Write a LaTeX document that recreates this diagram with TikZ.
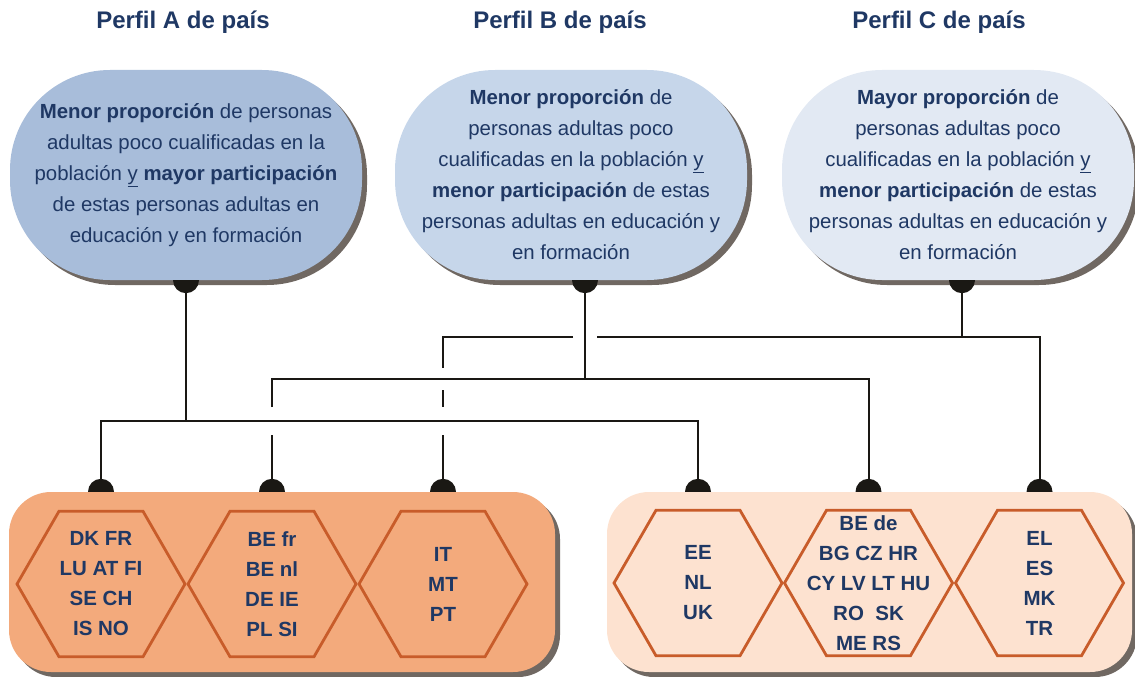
\documentclass[tikz,border=0pt]{standalone}
\usepackage{fontspec}
\setmainfont{Liberation Sans}
\usetikzlibrary{shapes.geometric,shadows,calc}
\definecolor{ink}{RGB}{31,56,100}
\definecolor{wirecol}{RGB}{26,24,20}
\definecolor{blueA}{RGB}{168,189,218}
\definecolor{blueB}{RGB}{198,214,234}
\definecolor{blueC}{RGB}{226,233,243}
\definecolor{peachdark}{RGB}{243,170,124}
\definecolor{peachlight}{RGB}{253,226,208}
\definecolor{rust}{RGB}{200,92,42}
\definecolor{shade}{RGB}{112,104,98}
\tikzset{
  title/.style={font=\fontsize{24}{28}\selectfont\bfseries,text=ink},
  bubble/.style={rounded corners=100pt,minimum width=352pt,minimum height=210pt,inner sep=0pt,
    drop shadow={shadow xshift=5pt,shadow yshift=-5pt,fill=shade,opacity=1},
    font=\fontsize{20.4}{31}\selectfont,text=ink,align=center},
  group/.style={rounded corners=42pt,minimum height=180pt,inner sep=0pt,
    drop shadow={shadow xshift=5pt,shadow yshift=-5pt,fill=shade,opacity=1}},
  hexa/.style={regular polygon,regular polygon sides=6,minimum size=168pt,
    draw=rust,line width=2.8pt,inner sep=0pt},
  codes/.style={font=\fontsize{20.5}{30}\selectfont\bfseries,text=ink,align=center},
  wire/.style={line width=2pt,wirecol},
  dot/.style={fill=wirecol}
}
\begin{document}
\begin{tikzpicture}[x=1pt,y=-1pt]
  \useasboundingbox (0,0) rectangle (1135,677);
  % titles
  \node[title] (tA) at (183,22) {Perfil A de país};
  \node[title] (tB) at (560,22) {Perfil B de país};
  \node[title] (tC) at (939,22) {Perfil C de país};
  % profile bubbles
  \node[bubble,fill=blueA] (bubA) at (186,175) {\textbf{Menor proporción} de personas\\
    adultas poco cualificadas en la\\población \underline{y} \textbf{mayor participación}\\
    de estas personas adultas en\\educación y en formación};
  \node[bubble,fill=blueB] (bubB) at (571,175) {\textbf{Menor proporción} de\\
    personas adultas poco\\cualificadas en la población \underline{y}\\
    \textbf{menor participación} de estas\\personas adultas en educación y\\en formación};
  \node[bubble,fill=blueC] (bubC) at (958,175) {\textbf{Mayor proporción} de\\
    personas adultas poco\\cualificadas en la población \underline{y}\\
    \textbf{menor participación} de estas\\personas adultas en educación y\\en formación};
  % country groups
  \node[group,fill=peachdark,minimum width=546pt] (boxL) at (282,582) {};
  \node[group,fill=peachlight,minimum width=525pt] (boxR) at (869.5,582) {};
  \node[hexa] (hexL1) at (101,584) {};
  \node[hexa] (hexL2) at (272,584) {};
  \node[hexa] (hexL3) at (443,584) {};
  \node[hexa] (hexR1) at (698,583) {};
  \node[hexa] (hexR2) at (868.5,583) {};
  \node[hexa] (hexR3) at (1039.5,583) {};
  \node[codes] (cL1) at (hexL1) {DK FR\\LU AT FI\\SE CH\\IS NO};
  \node[codes] (cL2) at (hexL2) {BE fr\\BE nl\\DE IE\\PL SI};
  \node[codes] (cL3) at (hexL3) {IT\\MT\\PT};
  \node[codes] (cR1) at (hexR1) {EE\\NL\\UK};
  \node[codes] (cR2) at (hexR2) {BE de\\BG CZ HR\\CY LV LT HU\\RO~ SK\\ME RS};
  \node[codes] (cR3) at (hexR3) {EL\\ES\\MK\\TR};
  % stems and levels
  \coordinate (sA) at (bubA.south);
  \coordinate (sB) at ($(bubB.south)+(14,0)$);
  \coordinate (sC) at ($(bubC.south)+(4,0)$);
  \coordinate (lvA) at (0,421);
  \coordinate (lvB) at (0,379);
  \coordinate (lvC) at (0,337);
  \coordinate (jA) at (sA |- lvA);
  \coordinate (jB) at (sB |- lvB);
  \coordinate (jC) at (sC |- lvC);
  % profile A
  \draw[wire] (sA) -- (jA);
  \draw[wire] (hexL1 |- boxL.north) |- (jA) -| (hexR1 |- boxR.north);
  % profile B
  \draw[wire] (sB) -- (jB);
  \draw[wire] ($(hexL2 |- lvA)+(0,14)$) -- (hexL2 |- boxL.north);
  \draw[wire] ($(hexL2 |- lvA)+(0,-14)$) |- (jB) -| (hexR2 |- boxR.north);
  % profile C
  \draw[wire] (sC) -- (jC);
  \draw[wire] (jC) -| (hexR3 |- boxR.north);
  \draw[wire] (jC) -- ($(sB |- lvC)+(12,0)$);
  \draw[wire] ($(sB |- lvC)+(-12,0)$) -| ($(hexL3 |- lvB)+(0,-11)$);
  \draw[wire] ($(hexL3 |- lvB)+(0,11)$) -- ($(hexL3 |- lvA)+(0,-14)$);
  \draw[wire] ($(hexL3 |- lvA)+(0,14)$) -- (hexL3 |- boxL.north);
  % dots
  \foreach \s in {sA,sB,sC}
    \fill[dot] (\s) ++(-13pt,0) arc[start angle=180,end angle=360,radius=13pt] -- cycle;
  \foreach \h in {hexL1,hexL2,hexL3,hexR1,hexR2,hexR3}
    \fill[dot] (\h |- boxL.north) ++(-13pt,0) arc[start angle=180,end angle=0,radius=13pt] -- cycle;
\end{tikzpicture}
\end{document}
